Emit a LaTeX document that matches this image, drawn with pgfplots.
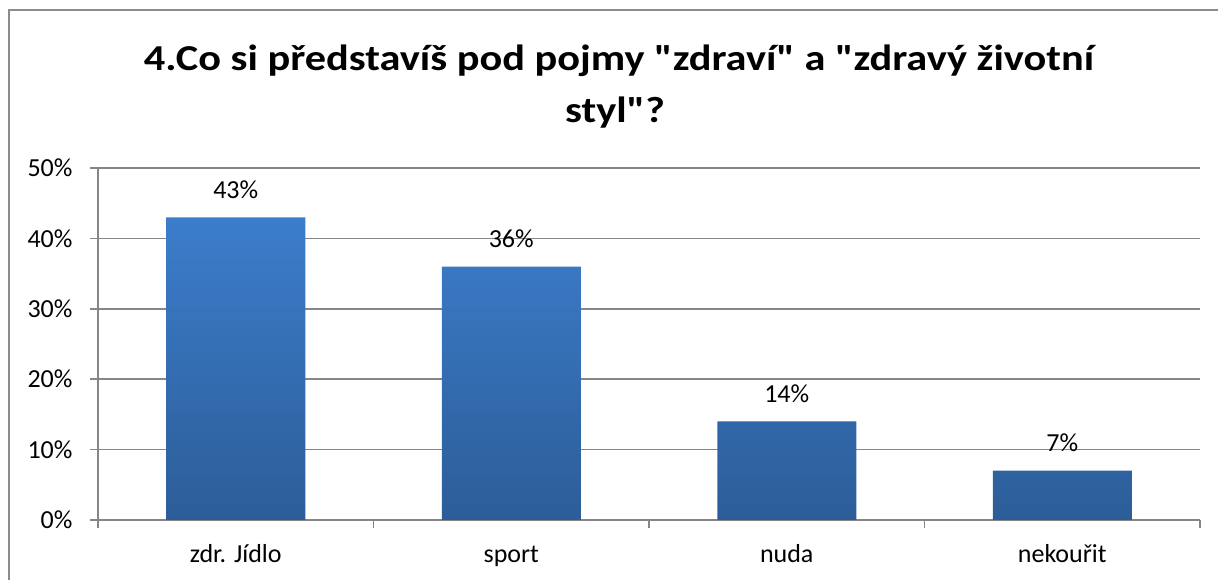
\documentclass[border=0pt]{standalone}
\usepackage{pgfplots}
\pgfplotsset{compat=1.18}
\usepackage{fontspec}
\setmainfont{Carlito}
\newfontfamily\titlefont[FakeStretch=1.16]{Carlito}
\definecolor{bartop}{RGB}{60,125,203}
\definecolor{barbot}{RGB}{44,93,152}
\definecolor{gridc}{RGB}{134,134,134}
\definecolor{framec}{RGB}{140,140,140}
\begin{document}
\begin{tikzpicture}[x=1pt,y=1pt]
\useasboundingbox (0,0) rectangle (1218,580);
\begin{scope}
\clip (0,0) rectangle (1218,580);
\draw[framec, line width=2pt] (9,-10) rectangle (1230,570);
\end{scope}
\node[font=\titlefont\fontsize{36.5}{44}\selectfont\bfseries, anchor=base, inner sep=0pt] at (619,509) {4.Co si představíš pod pojmy \symbol{34}zdraví\symbol{34} a \symbol{34}zdravý životní};
\node[font=\titlefont\fontsize{36.5}{44}\selectfont\bfseries, anchor=base, inner sep=0pt] at (615,457) {styl\symbol{34}?};
\begin{axis}[
  at={(98pt,60pt)}, anchor=origin,
  scale only axis, width=1102pt, height=352pt,
  xmin=0, xmax=4, ymin=0, ymax=50,
  ybar, bar width=139pt,
  axis x line*=bottom, axis y line*=left,
  axis line style={gridc, line width=1.5pt, -},
  ytick={0,10,20,30,40,50},
  yticklabel={\pgfmathprintnumber{\tick}\%},
  xtick={0.5,1.5,2.5,3.5},
  xticklabels={zdr. Jídlo, sport, nuda, nekouřit},
  minor xtick={0,1,2,3,4},
  major x tick style={draw=none},
  tick align=outside, major tick length=8pt, minor tick length=8pt,
  tick style={gridc, line width=1.5pt},
  ymajorgrids, grid style={gridc, line width=1.5pt},
  /pgf/number format/assume math mode=true,
  ticklabel style={font=\fontsize{26}{30}\selectfont, text=black},
  yticklabel style={xshift=-14pt},
  xticklabel style={anchor=base, yshift=-35pt},
  nodes near coords={\pgfmathprintnumber{\pgfplotspointmeta}\%},
  every node near coord/.append style={font=\fontsize{26}{30}\selectfont, text=black, anchor=base, yshift=19pt, inner sep=0pt},
]
\addplot[draw=none, top color=bartop, bottom color=barbot] coordinates {(0.5,43) (1.5,36) (2.5,14) (3.5,7)};
\end{axis}
\end{tikzpicture}
\end{document}
